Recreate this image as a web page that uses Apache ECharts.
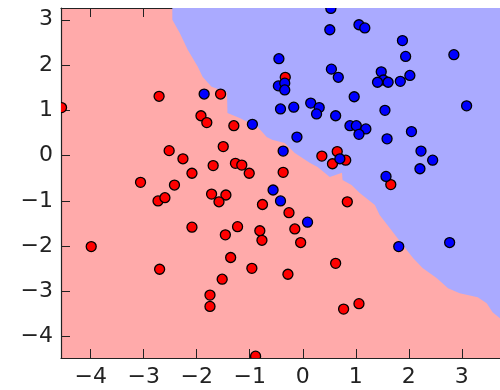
<!DOCTYPE html>
<html>
<head>
<meta charset="utf-8">
<script src="https://cdn.jsdelivr.net/npm/echarts@6/dist/echarts.min.js"></script>
<style>
  html, body { margin: 0; padding: 0; background: #fff; }
  #chart { width: 500px; height: 390px; }
</style>
</head>
<body>
<div id="chart"></div>
<script>
// tick labels
var xTicks = [-4, -3, -2, -1, 0, 1, 2, 3];
var yTicks = [-4, -3, -2, -1, 0, 1, 2, 3];

// red class points
var redX = [-2.71, -4.55, -2.52, -3.06, -1.92, -1.81, -1.55, -1.30, -1.50, -2.26,
            -1.69, -1.27, -1.15, -2.09, -1.01, -0.33, 0.36, 0.65, 0.56, 0.81,
            -0.37, 1.66, -2.42, -2.73, -2.60, -1.72, -1.45, -1.58, -0.76, -2.09,
            -1.46, -1.23, -0.81, -0.77, -1.36, -0.96, -1.52, -1.75, -1.75, -0.89,
            -3.99, -2.70, -0.26, -0.15, -0.04, 0.84, 0.62, -0.28, 0.77, 1.06];
var redY = [1.31, 1.06, 0.11, -0.59, 0.88, 0.73, 1.36, 0.66, 0.20, -0.07,
            -0.22, -0.17, -0.21, -0.39, -0.39, 1.73, -0.01, 0.09, -0.18, -0.10,
            -0.37, -0.64, -0.65, -1.00, -0.93, -0.85, -0.87, -1.02, -1.08, -1.58,
            -1.75, -1.57, -1.66, -1.87, -2.25, -2.49, -2.73, -3.08, -3.33, -4.43,
            -2.01, -2.51, -1.26, -1.62, -1.92, -1.02, -2.38, -2.62, -3.39, -3.27];

// blue class points
var blueX = [-0.45, -1.86, -0.95, -0.42, -0.37, -0.46, -0.34, -0.34, 0.53, 0.51,
             1.06, 1.17, 0.54, 0.67, 1.48, 1.52, 1.41, 1.61, 1.84, 2.02,
             1.88, 1.94, 2.85, 3.09, 0.97, -0.17, 0.15, 0.31, 0.26, 0.62,
             1.55, 0.89, 1.01, 1.19, 1.06, 1.59, -0.11, 2.05, 2.23, 2.45,
             2.21, 0.70, 1.57, -0.56, -0.42, 0.09, 1.81, 2.77];
var blueY = [2.14, 1.36, 0.69, 1.03, 0.10, 1.54, 1.60, 1.45, 3.25, 2.78,
             2.89, 2.82, 1.91, 1.73, 1.85, 1.67, 1.62, 1.62, 1.64, 1.77,
             2.54, 2.19, 2.23, 1.10, 1.30, 1.07, 1.16, 1.06, 0.92, 0.88,
             1.00, 0.66, 0.66, 0.59, 0.47, 0.37, 0.41, 0.53, 0.10, -0.10,
             -0.29, -0.07, -0.46, -0.76, -1.00, -1.47, -2.01, -1.92];

// decision boundary (blue region is above / right of it)
var edgeX = [-2.46, -2.46, -2.32, -2.17, -1.98, -1.89, -1.79, -1.72, -1.43, -1.42,
             -1.19, -0.85, -0.68, -0.58, -0.34, -0.15, 0.13, 0.28, 0.51, 0.74,
             0.75, 0.92, 1.08, 1.36, 1.45, 1.64, 1.89, 2.08, 2.26, 2.53,
             2.74, 2.96, 3.30, 3.47, 3.58, 3.72];
var edgeY = [3.26, 3.00, 2.71, 2.34, 1.96, 1.74, 1.61, 1.52, 1.40, 0.94,
             0.83, 0.63, 0.41, 0.35, 0.28, 0.06, -0.16, -0.25, -0.47, -0.38,
             -0.54, -0.65, -0.83, -1.09, -1.31, -1.60, -1.98, -2.26, -2.48, -2.71,
             -2.93, -3.04, -3.13, -3.26, -3.46, -3.59];

var xMin = -4.56, xMax = 3.72;
var yMin = -4.47, yMax = 3.26;

function toPairs(xs, ys) {
  return xs.map(function (x, i) { return [x, ys[i]]; });
}

function tickText(v) {
  return v < 0 ? '\u2212' + Math.abs(v) : String(v);
}

// dots drawn as a custom series so the ones on the frame get cut like in the original
function dotSeries(xs, ys, fill, z) {
  return {
    type: 'custom',
    clip: true,
    z: z,
    data: toPairs(xs, ys),
    renderItem: function (params, api) {
      var p = api.coord([api.value(0), api.value(1)]);
      return {
        type: 'circle',
        shape: { cx: p[0], cy: p[1], r: 5 },
        style: { fill: fill, stroke: '#000', lineWidth: 1.3 }
      };
    }
  };
}

var chart = echarts.init(document.getElementById('chart'));

var axisLine = { show: true, onZero: false, lineStyle: { color: '#222', width: 1.2 } };
var labelStyle = { fontFamily: 'DejaVu Sans', fontSize: 22, color: '#222' };

var option = {
  animation: false,
  grid: {
    left: 61, top: 8, right: 0, bottom: 32,
    show: true, backgroundColor: '#FFAAAA', borderWidth: 0
  },
  xAxis: [
    {
      type: 'value', min: xMin, max: xMax,
      axisLine: axisLine,
      axisTick: { show: true, inside: true, length: 9, customValues: xTicks, lineStyle: { color: '#222' } },
      axisLabel: Object.assign({ margin: 8, customValues: xTicks, formatter: tickText }, labelStyle),
      splitLine: { show: false }
    },
    {
      type: 'value', position: 'top', min: xMin, max: xMax,
      axisLine: axisLine,
      axisTick: { show: true, inside: true, length: 9, customValues: xTicks, lineStyle: { color: '#222' } },
      axisLabel: { show: false },
      splitLine: { show: false }
    }
  ],
  yAxis: {
    type: 'value', min: yMin, max: yMax,
    axisLine: axisLine,
    axisTick: { show: true, inside: true, length: 9, customValues: yTicks, lineStyle: { color: '#222' } },
    axisLabel: Object.assign({ margin: 8, customValues: yTicks, formatter: tickText }, labelStyle),
    splitLine: { show: false }
  },
  series: [
    {
      type: 'custom',
      clip: true,
      silent: true,
      z: 1,
      data: toPairs(edgeX, edgeY),
      renderItem: function (params, api) {
        if (params.dataIndex !== 0) return;
        var pts = edgeX.map(function (x, i) { return api.coord([x, edgeY[i]]); });
        pts.push(api.coord([xMax, yMax]));
        return {
          type: 'polygon',
          shape: { points: pts },
          style: { fill: '#AAAAFF', stroke: null }
        };
      }
    },
    dotSeries(redX, redY, '#FF0000', 3),
    dotSeries(blueX, blueY, '#0000FF', 4)
  ]
};
chart.setOption(option);
</script>
</body>
</html>
